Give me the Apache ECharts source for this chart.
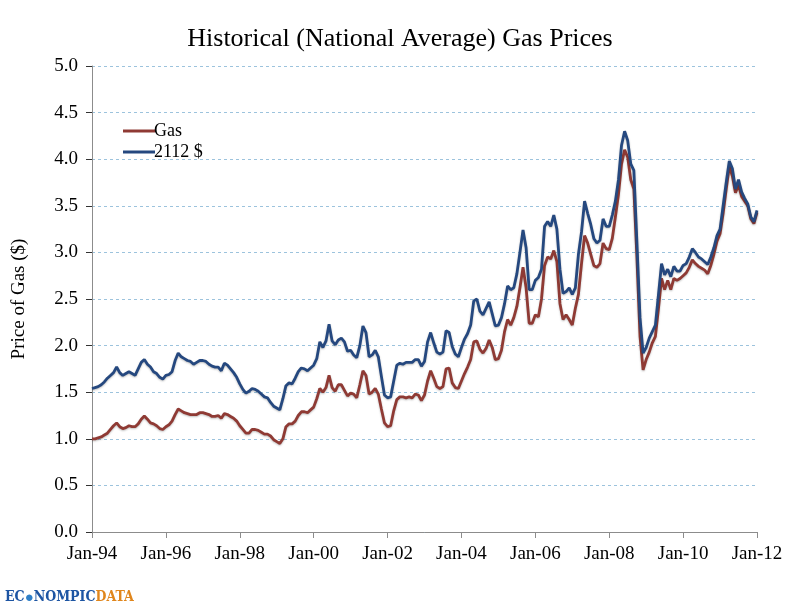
<!DOCTYPE html>
<html>
<head>
	<meta http-equiv="Content-Type" content="text/html; charset=utf-8" />
	<title>Historical (National Average) Gas Prices</title>
	<script src="https://cdn.jsdelivr.net/npm/echarts@6/dist/echarts.min.js"></script>
	<style>
		html, body { margin: 0; padding: 0; background: #fff; }
		#main { width: 800px; height: 608px; }
	</style>
</head>
<body>
	<div id="main"></div>
	<script type="text/javascript">
		// monthly, Jan-94 .. Jan-12
		var startYear = 1994;
		var monthNames = ['Jan','Feb','Mar','Apr','May','Jun','Jul','Aug','Sep','Oct','Nov','Dec'];
		var yTicks = [0, 0.5, 1, 1.5, 2, 2.5, 3, 3.5, 4, 4.5, 5];

		// nominal price
		var gas = [
			1.00,1.00,1.01,1.02,1.04,1.06,1.10,1.14,1.17,1.13,1.11,1.12,
			1.14,1.13,1.13,1.16,1.21,1.245,1.21,1.17,1.16,1.14,1.11,1.10,
			1.13,1.15,1.19,1.26,1.32,1.30,1.28,1.27,1.26,1.26,1.26,1.28,
			1.28,1.27,1.26,1.24,1.24,1.25,1.22,1.27,1.26,1.24,1.22,1.19,
			1.14,1.10,1.06,1.06,1.10,1.10,1.09,1.07,1.05,1.05,1.03,0.99,
			0.97,0.95,1.00,1.13,1.16,1.16,1.19,1.25,1.29,1.29,1.28,1.31,
			1.34,1.43,1.54,1.50,1.55,1.68,1.55,1.51,1.58,1.58,1.52,1.46,
			1.49,1.48,1.44,1.58,1.73,1.68,1.48,1.50,1.54,1.48,1.32,1.17,
			1.13,1.14,1.30,1.42,1.45,1.45,1.44,1.45,1.44,1.48,1.47,1.41,
			1.47,1.62,1.73,1.65,1.56,1.54,1.56,1.75,1.76,1.60,1.55,1.54,
			1.62,1.70,1.77,1.85,2.04,2.05,1.96,1.92,1.97,2.06,1.98,1.85,
			1.86,1.95,2.15,2.28,2.22,2.30,2.42,2.62,2.84,2.62,2.24,2.24,
			2.33,2.31,2.50,2.86,2.95,2.93,3.02,2.90,2.45,2.28,2.33,2.28,
			2.22,2.40,2.55,2.88,3.18,3.10,2.98,2.86,2.84,2.88,3.10,3.04,
			3.03,3.15,3.38,3.62,3.95,4.10,4.02,3.78,3.68,2.94,2.10,1.74,
			1.85,1.93,2.03,2.10,2.40,2.72,2.60,2.70,2.60,2.72,2.70,2.72,
			2.75,2.78,2.84,2.92,2.88,2.85,2.83,2.81,2.77,2.86,2.98,3.12,
			3.20,3.42,3.68,3.92,3.82,3.64,3.72,3.60,3.55,3.50,3.36,3.31,
			3.43
		];

		// inflation adjusted
		var gasReal = [
			1.54,1.55,1.56,1.58,1.61,1.65,1.68,1.71,1.77,1.71,1.68,1.70,
			1.72,1.70,1.68,1.75,1.82,1.85,1.80,1.77,1.72,1.70,1.66,1.64,
			1.68,1.69,1.72,1.84,1.92,1.88,1.86,1.84,1.83,1.80,1.82,1.84,
			1.84,1.83,1.80,1.78,1.77,1.77,1.73,1.81,1.79,1.75,1.71,1.66,
			1.59,1.53,1.49,1.51,1.54,1.53,1.51,1.48,1.45,1.44,1.39,1.35,
			1.33,1.31,1.43,1.57,1.60,1.59,1.65,1.72,1.76,1.75,1.73,1.76,
			1.79,1.86,2.04,1.98,2.05,2.23,2.05,2.01,2.06,2.08,2.04,1.94,
			1.95,1.90,1.87,2.00,2.21,2.14,1.88,1.90,1.95,1.88,1.67,1.47,
			1.44,1.45,1.62,1.79,1.81,1.80,1.82,1.82,1.82,1.85,1.85,1.78,
			1.83,2.04,2.14,2.03,1.93,1.91,1.93,2.16,2.14,1.99,1.91,1.88,
			1.98,2.07,2.13,2.22,2.48,2.50,2.37,2.33,2.40,2.47,2.34,2.21,
			2.22,2.30,2.45,2.64,2.60,2.62,2.77,3.00,3.24,3.05,2.60,2.60,
			2.70,2.73,2.82,3.28,3.33,3.28,3.40,3.25,2.82,2.56,2.58,2.62,
			2.55,2.62,2.98,3.22,3.55,3.42,3.30,3.15,3.10,3.13,3.36,3.28,
			3.28,3.40,3.55,3.78,4.15,4.30,4.20,3.95,3.88,3.10,2.30,1.92,
			1.98,2.08,2.15,2.22,2.55,2.88,2.76,2.82,2.74,2.85,2.80,2.80,
			2.86,2.88,2.95,3.04,3.00,2.95,2.93,2.90,2.87,2.95,3.05,3.18,
			3.25,3.50,3.75,3.98,3.90,3.68,3.78,3.65,3.58,3.52,3.38,3.33,
			3.45
		];

		var months = [];
		for (var i = 0; i < gas.length; i++) {
			var yy = (startYear + Math.floor(i / 12)) % 100;
			months.push(monthNames[i % 12] + '-' + (yy < 10 ? '0' + yy : yy));
		}

		var serif = '"Liberation Serif", "DejaVu Serif", serif';
		var logoFont = '"DejaVu Serif Condensed", "DejaVu Serif", serif';
		var myChart = echarts.init(document.getElementById('main'), null, { renderer: 'canvas' });

		myChart.setOption({
			animation: false,
			backgroundColor: '#ffffff',
			title: {
				text: 'Historical (National Average) Gas Prices',
				left: 'center',
				top: 21,
				textStyle: { fontFamily: serif, fontSize: 26, fontWeight: 'normal', color: '#000' }
			},
			legend: {
				orient: 'vertical',
				left: 118,
				top: 117,
				itemWidth: 32,
				itemHeight: 3,
				itemGap: 3,
				icon: 'rect',
				textStyle: { fontFamily: serif, fontSize: 18, color: '#000', padding: [0, 0, 0, -6] },
				data: ['Gas', '2112 $']
			},
			grid: { left: 92, right: 43, top: 66, bottom: 76, containLabel: false },
			xAxis: {
				type: 'category',
				data: months,
				boundaryGap: false,
				axisLine: { lineStyle: { color: '#8c8c8c', width: 1 } },
				axisTick: { interval: 23, length: 6, lineStyle: { color: '#8c8c8c' } },
				axisLabel: { interval: 23, margin: 13, fontFamily: serif, fontSize: 19, color: '#000' },
				splitLine: { show: false }
			},
			yAxis: {
				type: 'value',
				min: yTicks[0],
				max: yTicks[yTicks.length - 1],
				interval: 0.5,
				name: 'Price of Gas ($)',
				nameLocation: 'middle',
				nameGap: 63,
				nameTextStyle: { fontFamily: serif, fontSize: 19, color: '#000' },
				axisLine: { show: true, lineStyle: { color: '#8c8c8c' } },
				axisTick: { show: true, length: 6, lineStyle: { color: '#333' } },
				axisLabel: {
					margin: 14, fontFamily: serif, fontSize: 19, color: '#000',
					formatter: function (v) { return v.toFixed(1); }
				},
				splitLine: { show: true, lineStyle: { color: '#9cc3dd', type: [3, 3], width: 1 } }
			},
			series: [
				{
					name: 'Gas',
					type: 'line',
					data: gas,
					symbol: 'none',
					color: '#8f3a34',
					lineStyle: { width: 2.8, shadowColor: 'rgba(0,0,0,0.25)', shadowBlur: 2, shadowOffsetY: 1 },
					z: 2
				},
				{
					name: '2112 $',
					type: 'line',
					data: gasReal,
					symbol: 'none',
					color: '#25487f',
					lineStyle: { width: 2.8, shadowColor: 'rgba(0,0,0,0.25)', shadowBlur: 2, shadowOffsetY: 1 },
					z: 3
				}
			],
			graphic: [
				{
					type: 'text',
					left: 5,
					top: 590,
					style: {
						text: '{b|EC}{g|●}{b|NOMPIC}{o|DATA}',
						rich: {
							b: { fontFamily: logoFont, fontWeight: 'bold', fontSize: 14, fill: '#1d55a3' },
							g: { fontSize: 15, fill: '#2f7fc8' },
							o: { fontFamily: logoFont, fontWeight: 'bold', fontSize: 14, fill: '#e0861c' }
						}
					}
				}
			]
		});
	</script>
</body>
</html>
